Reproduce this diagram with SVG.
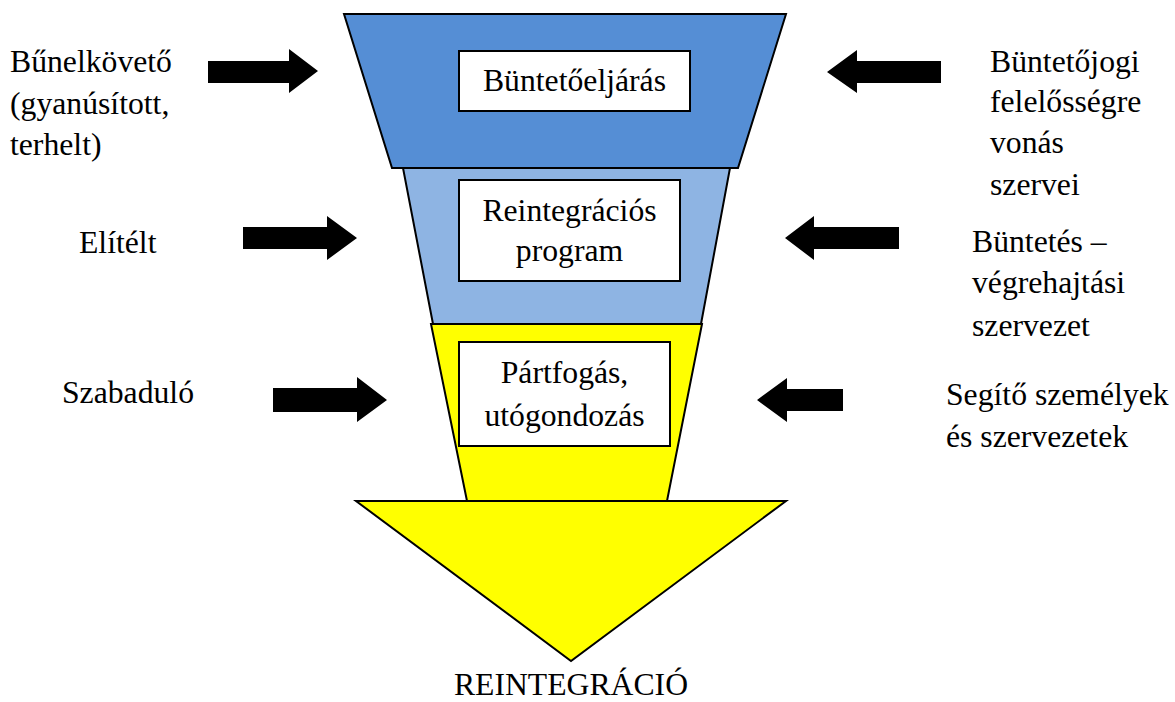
<svg xmlns="http://www.w3.org/2000/svg" width="1175" height="702" viewBox="0 0 1175 702">
<style>
text{font-family:"Liberation Serif","DejaVu Serif",serif;font-size:31.7px;fill:#000}
.c{text-anchor:middle}
.sh{stroke:#000;stroke-width:2;stroke-linejoin:miter}
.box{fill:#fff;stroke:#000;stroke-width:2}
.arr{fill:#000}
</style>
<rect width="1175" height="702" fill="#fff"/>
<g id="stage-reintegration">
<polygon class="sh" fill="#ffff00" points="356,501 786,501 571,661"/>
<text class="c" x="571" y="695">REINTEGRÁCIÓ</text>
</g>
<g id="stage-partfogas">
<polygon class="sh" fill="#ffff00" points="431,324 702,324 667,501 467,501"/>
<rect class="box" x="459" y="342" width="211" height="104"/>
<text class="c" x="564.5" y="383">Pártfogás,</text>
<text class="c" x="564.5" y="426">utógondozás</text>
</g>
<g id="stage-program">
<polygon class="sh" fill="#8eb4e3" points="403,168 730,168 701,324 433,324"/>
<rect class="box" x="459" y="180" width="221" height="101"/>
<text class="c" x="569.5" y="221">Reintegrációs</text>
<text class="c" x="569.5" y="261">program</text>
</g>
<g id="stage-eljaras">
<polygon class="sh" fill="#558ed5" points="344,14 786,14 738,168 392,168"/>
<rect class="box" x="459" y="51" width="231" height="60"/>
<text class="c" x="574.5" y="91">Büntetőeljárás</text>
</g>
<g id="left-labels">
<text x="10" y="72">Bűnelkövető</text>
<text x="10" y="114">(gyanúsított,</text>
<text x="10" y="155">terhelt)</text>
<text x="79" y="253">Elítélt</text>
<text x="62" y="403">Szabaduló</text>
</g>
<g id="right-labels">
<text x="990" y="72">Büntetőjogi</text>
<text x="990" y="112">felelősségre</text>
<text x="990" y="153">vonás</text>
<text x="990" y="195">szervei</text>
<text x="972" y="252">Büntetés –</text>
<text x="972" y="293">végrehajtási</text>
<text x="972" y="336">szervezet</text>
<text x="946" y="405">Segítő személyek</text>
<text x="946" y="447">és szervezetek</text>
</g>
<g id="connectors">
<polygon class="arr" points="208,61 289,61 289,49 318,71 289,93 289,83 208,83"/>
<polygon class="arr" points="243,227 327,227 327,216 357,238 327,260 327,249 243,249"/>
<polygon class="arr" points="273,388 357,388 357,377 387,400 357,422 357,412 273,412"/>
<polygon class="arr" points="941,61 857,61 857,50 827,72 857,93 857,83 941,83"/>
<polygon class="arr" points="899,227 814,227 814,216 785,238 814,260 814,249 899,249"/>
<polygon class="arr" points="843,389 787,389 787,378 757,400 787,422 787,411 843,411"/>
</g>
</svg>
